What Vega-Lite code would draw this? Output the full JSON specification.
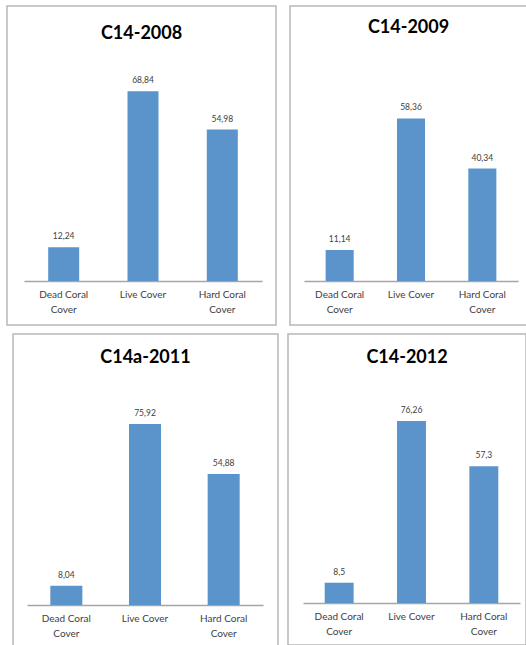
{
  "$schema": "https://vega.github.io/schema/vega-lite/v6.json",
  "background": "white",
  "padding": {"left": 6, "top": 5, "right": 0, "bottom": 0},
  "config": {
    "locale": {"number": {"decimal": ",", "thousands": ".", "grouping": [3], "currency": ["", " €"]}},
    "view": {"stroke": "#b8b8b8", "strokeWidth": 1.5},
    "font": "Lato",
    "title": {"font": "Lato", "fontSize": 18, "fontWeight": "bold", "color": "#000000", "anchor": "middle", "baseline": "middle"},
    "axis": {
      "title": null,
      "ticks": false,
      "grid": false,
      "domainColor": "#a6a6a6",
      "domainWidth": 1.5,
      "labelFont": "Lato",
      "labelFontSize": 10,
      "labelColor": "#404040",
      "labelAngle": 0,
      "labelPadding": 8,
      "labelBaseline": "top",
      "labelLineHeight": 15,
      "labelExpr": "datum.value == 'Live Cover' ? datum.value : [replace(datum.value, ' Cover', ''), 'Cover']"
    },
    "bar": {"color": "#5b93cb"},
    "text": {"font": "Lato", "fontSize": 8.5, "color": "#404040", "dy": -11, "baseline": "middle"}
  },
  "datasets": {
    "cover": [
      {"site": "C14-2008", "category": "Dead Coral Cover", "value": 12.24},
      {"site": "C14-2008", "category": "Live Cover", "value": 68.84},
      {"site": "C14-2008", "category": "Hard Coral Cover", "value": 54.98},
      {"site": "C14-2009", "category": "Dead Coral Cover", "value": 11.14},
      {"site": "C14-2009", "category": "Live Cover", "value": 58.36},
      {"site": "C14-2009", "category": "Hard Coral Cover", "value": 40.34},
      {"site": "C14a-2011", "category": "Dead Coral Cover", "value": 8.04},
      {"site": "C14a-2011", "category": "Live Cover", "value": 75.92},
      {"site": "C14a-2011", "category": "Hard Coral Cover", "value": 54.88},
      {"site": "C14-2012", "category": "Dead Coral Cover", "value": 8.5},
      {"site": "C14-2012", "category": "Live Cover", "value": 76.26},
      {"site": "C14-2012", "category": "Hard Coral Cover", "value": 57.3}
    ]
  },
  "spacing": 7,
  "vconcat": [
    {
      "spacing": 12,
      "hconcat": [
        {
          "width": 269,
          "height": 319,
          "data": {"name": "cover"},
          "transform": [{"filter": "datum.site == 'C14-2008'"}],
          "title": {"text": "C14-2008", "offset": -37},
          "encoding": {
            "x": {"field": "category", "type": "nominal", "sort": null,
                  "scale": {"range": [17, 255], "paddingInner": 0.609, "paddingOuter": 0.305},
                  "axis": {"offset": -44}},
            "y": {"field": "value", "type": "quantitative", "scale": {"domain": [0, 80], "range": [275, 54.6]}, "axis": null}
          },
          "layer": [
            {"mark": "bar"},
            {"mark": "text", "encoding": {"text": {"field": "value", "type": "quantitative", "format": "~f"}}}
          ]
        },
        {
          "width": 237,
          "height": 319,
          "data": {"name": "cover"},
          "transform": [{"filter": "datum.site == 'C14-2009'"}],
          "title": {"text": "C14-2009", "offset": -31},
          "encoding": {
            "x": {"field": "category", "type": "nominal", "sort": null,
                  "scale": {"range": [14, 228], "paddingInner": 0.607, "paddingOuter": 0.3035},
                  "axis": {"offset": -44}},
            "y": {"field": "value", "type": "quantitative", "scale": {"domain": [0, 70], "range": [275, 80]}, "axis": null}
          },
          "layer": [
            {"mark": "bar"},
            {"mark": "text", "encoding": {"text": {"field": "value", "type": "quantitative", "format": "~f"}}}
          ]
        }
      ]
    },
    {
      "spacing": 0,
      "hconcat": [
        {
          "width": 0.01,
          "height": 1,
          "view": {"stroke": null},
          "mark": {"type": "rule", "opacity": 0, "strokeWidth": 0},
          "encoding": {}
        },
        {
          "width": 265,
          "height": 318,
          "data": {"name": "cover"},
          "transform": [{"filter": "datum.site == 'C14a-2011'"}],
          "title": {"text": "C14a-2011", "offset": -33},
          "encoding": {
            "x": {"field": "category", "type": "nominal", "sort": null,
                  "scale": {"range": [14, 250], "paddingInner": 0.593, "paddingOuter": 0.2965},
                  "axis": {"offset": -47}},
            "y": {"field": "value", "type": "quantitative", "scale": {"domain": [0, 80], "range": [271, 80.2]},
                  "axis": {"domain": false, "labels": false, "ticks": true, "tickSize": 4, "tickOpacity": 0, "minExtent": 4, "maxExtent": 4}}
          },
          "layer": [
            {"mark": "bar"},
            {"mark": "text", "encoding": {"text": {"field": "value", "type": "quantitative", "format": "~f"}}}
          ]
        },
        {
          "width": 238,
          "height": 311,
          "data": {"name": "cover"},
          "transform": [{"filter": "datum.site == 'C14-2012'"}],
          "title": {"text": "C14-2012", "offset": -33},
          "encoding": {
            "x": {"field": "category", "type": "nominal", "sort": null,
                  "scale": {"range": [15, 232], "paddingInner": 0.6, "paddingOuter": 0.3},
                  "axis": {"offset": -42}},
            "y": {"field": "value", "type": "quantitative", "scale": {"domain": [0, 80], "range": [269, 78.2]},
                  "axis": {"domain": false, "labels": false, "ticks": true, "tickSize": 8, "tickOpacity": 0, "minExtent": 8, "maxExtent": 8}}
          },
          "layer": [
            {"mark": "bar"},
            {"mark": "text", "encoding": {"text": {"field": "value", "type": "quantitative", "format": "~f"}}}
          ]
        }
      ]
    }
  ]
}
